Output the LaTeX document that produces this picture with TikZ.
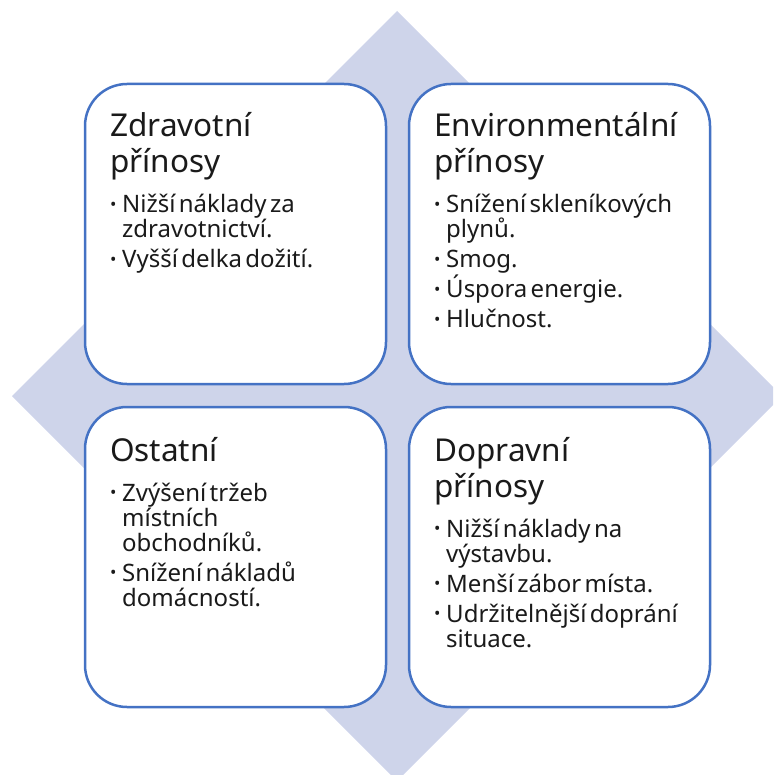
\documentclass[tikz,border=0pt]{standalone}
\usepackage{fontspec}
\setmainfont{Noto Sans}
\definecolor{diamfill}{HTML}{CED4EA}
\definecolor{boxedge}{HTML}{4472C4}
\definecolor{ink}{HTML}{1A1A1A}

% heading and body sizes
\newcommand{\headfont}{\fontsize{31.5}{36}\selectfont}
\newcommand{\listfont}{\fontsize{24}{25}\selectfont}
% bullet item: small round dot, wrapped lines hang under the text
\newcommand{\bulletmark}{\makebox[12pt][l]{\raisebox{2.5pt}{\fontsize{17}{17}\selectfont •}}}
\newcommand{\listitem}[2]{\par\vspace{#1}\hangindent=12pt\hangafter=1\noindent\bulletmark#2}

\tikzset{
  card/.style={draw=boxedge, line width=2.5pt, fill=white, rounded corners=42pt,
    minimum width=301pt, minimum height=300pt, inner sep=0pt},
  cardtext/.style={anchor=base west, inner sep=0pt, text width=290pt, text=ink,
    execute at begin node={\raggedright\lineskiplimit=-100pt\lineskip=0pt}},
}

\begin{document}
\begin{tikzpicture}[x=1pt, y=-1pt]
\useasboundingbox (0,0) rectangle (773,775);
\clip (0,0) rectangle (773,775);

% background diamond
\fill[diamfill] (397,11) -- (782,396) -- (397,781) -- (12,396) -- cycle;

% four cards
\node[card] (health) at (235.5,234) {};
\node[card] (env)    at (559.5,234) {};
\node[card] (other)  at (235.5,557) {};
\node[card] (traffic) at (559.5,557) {};

% card contents
\node[cardtext] (healthtxt) at (110,137) {\headfont Zdravotní\newline přínosy\par
  \listfont
  \listitem{15pt}{Nižší náklady za\newline zdravotnictví.}
  \listitem{5pt}{Vyšší delka dožití.}\par};

\node[cardtext] (envtxt) at (434,137) {\headfont Environmentální\newline přínosy\par
  \listfont
  \listitem{15pt}{Snížení skleníkových\newline plynů.}
  \listitem{5pt}{Smog.}
  \listitem{5pt}{Úspora energie.}
  \listitem{5pt}{Hlučnost.}\par};

\node[cardtext] (othertxt) at (110,461) {\headfont Ostatní\par
  \listfont
  \listitem{15pt}{Zvýšení tržeb\newline místních\newline obchodníků.}
  \listitem{5pt}{Snížení nákladů\newline domácností.}\par};

\node[cardtext] (traffictxt) at (434,461) {\headfont Dopravní\newline přínosy\par
  \listfont
  \listitem{15pt}{Nižší náklady na\newline výstavbu.}
  \listitem{5pt}{Menší zábor místa.}
  \listitem{5pt}{Udržitelnější doprání\newline situace.}\par};
\end{tikzpicture}
\end{document}
